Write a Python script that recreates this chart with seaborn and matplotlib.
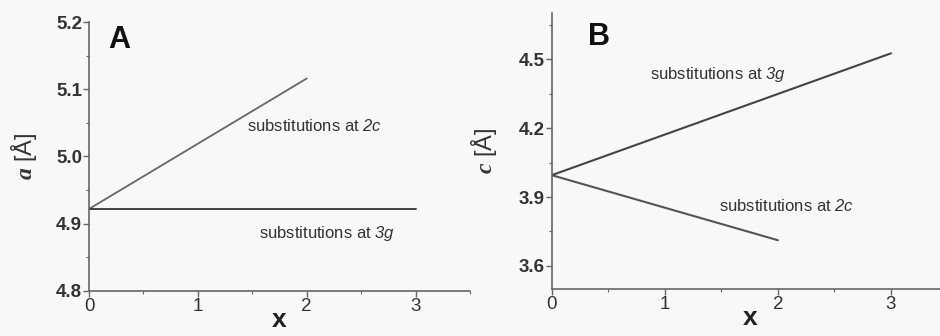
import pandas as pd
import matplotlib
matplotlib.use("Agg")
import matplotlib.pyplot as plt
import seaborn as sns
from matplotlib.ticker import MultipleLocator

# panel A: lattice parameter a
x_2c = [0, 2]
a_2c = [4.922, 5.116]
x_3g = [0, 3]
a_3g = [4.922, 4.922]

# panel B: lattice parameter c
c_2c = [3.995, 3.712]
c_3g = [3.995, 4.525]

label_2c = r"substitutions at $\mathcal{2c}$"
label_3g = r"substitutions at $\mathcal{3g}$"

sns.set_theme(style="ticks")
plt.rcParams["font.family"] = ["Liberation Sans", "DejaVu Sans"]
plt.rcParams["mathtext.fontset"] = "custom"
plt.rcParams["mathtext.it"] = "Liberation Sans:italic"
plt.rcParams["mathtext.cal"] = "Liberation Sans:italic"
plt.rcParams["mathtext.rm"] = "Liberation Sans"
plt.rcParams["mathtext.bf"] = "Liberation Serif:bold:italic"

bg = "#f8f8f8"
fig = plt.figure(figsize=(9.4, 3.36), dpi=100, facecolor=bg)
axA = fig.add_axes([0.0947, 0.134, 0.4053, 0.8005])
axB = fig.add_axes([0.587, 0.140, 0.421, 0.821])

dfA = pd.DataFrame({"x": x_2c + x_3g, "y": a_2c + a_3g,
                    "site": ["2c", "2c", "3g", "3g"]})
dfB = pd.DataFrame({"x": x_2c + x_3g, "y": c_2c + c_3g,
                    "site": ["2c", "2c", "3g", "3g"]})

sns.lineplot(data=dfA, x="x", y="y", hue="site", ax=axA, legend=False,
             palette={"2c": "#666666", "3g": "#333333"}, linewidth=1.3)
sns.lineplot(data=dfB, x="x", y="y", hue="site", ax=axB, legend=False,
             palette={"2c": "#555555", "3g": "#444444"}, linewidth=1.5)

for ax in (axA, axB):
    ax.set_facecolor(bg)
    sns.despine(ax=ax)
    ax.set_xlim(0, 3.5)
    ax.xaxis.set_major_locator(MultipleLocator(1))
    ax.xaxis.set_minor_locator(MultipleLocator(0.5))
    ax.tick_params(which="major", length=4, width=1, color="#666666",
                   labelsize=13.5, labelcolor="#333333", pad=1)
    ax.tick_params(which="minor", length=2.5, width=0.8, color="#666666")
    for s in ("left", "bottom"):
        ax.spines[s].set_color("#666666")
        ax.spines[s].set_linewidth(1.2)
    ax.set_xlabel("x", fontsize=19, fontweight="bold", color="#222222", labelpad=-5)
    ax.set_xticks([0, 1, 2, 3])
    ax.set_xticklabels(["0", "1", "2", "3"])

axA.set_ylim(4.8, 5.2)
axA.yaxis.set_minor_locator(MultipleLocator(0.05))
axA.set_yticks([4.8, 4.9, 5.0, 5.1, 5.2])
axA.set_ylabel(r"$\mathbf{a}$ [Å]", fontsize=17, color="#333333", labelpad=12)

axB.set_ylim(3.5, 4.7)
axB.set_yticks([3.6, 3.9, 4.2, 4.5])
axB.yaxis.set_minor_locator(MultipleLocator(0.15))
axB.set_ylabel(r"$\mathbf{c}$ [Å]", fontsize=17, color="#333333", labelpad=14)

for ax in (axA, axB):
    for t in ax.get_yticklabels():
        t.set_fontweight("bold")

axA.text(0.18, 5.195, "A", fontsize=22, fontweight="bold", color="#111111",
         va="top", ha="left")
axB.text(0.32, 4.66, "B", fontsize=22, fontweight="bold", color="#111111",
         va="top", ha="left")

axA.text(1.45, 5.045, label_2c, fontsize=12, color="#333333", va="center")
axA.text(1.56, 4.885, label_3g, fontsize=12, color="#333333", va="center")
axB.text(0.87, 4.435, label_3g, fontsize=12, color="#333333", va="center")
axB.text(1.48, 3.86, label_2c, fontsize=12, color="#333333", va="center")

fig.savefig("out.png", dpi=100, facecolor=bg)
